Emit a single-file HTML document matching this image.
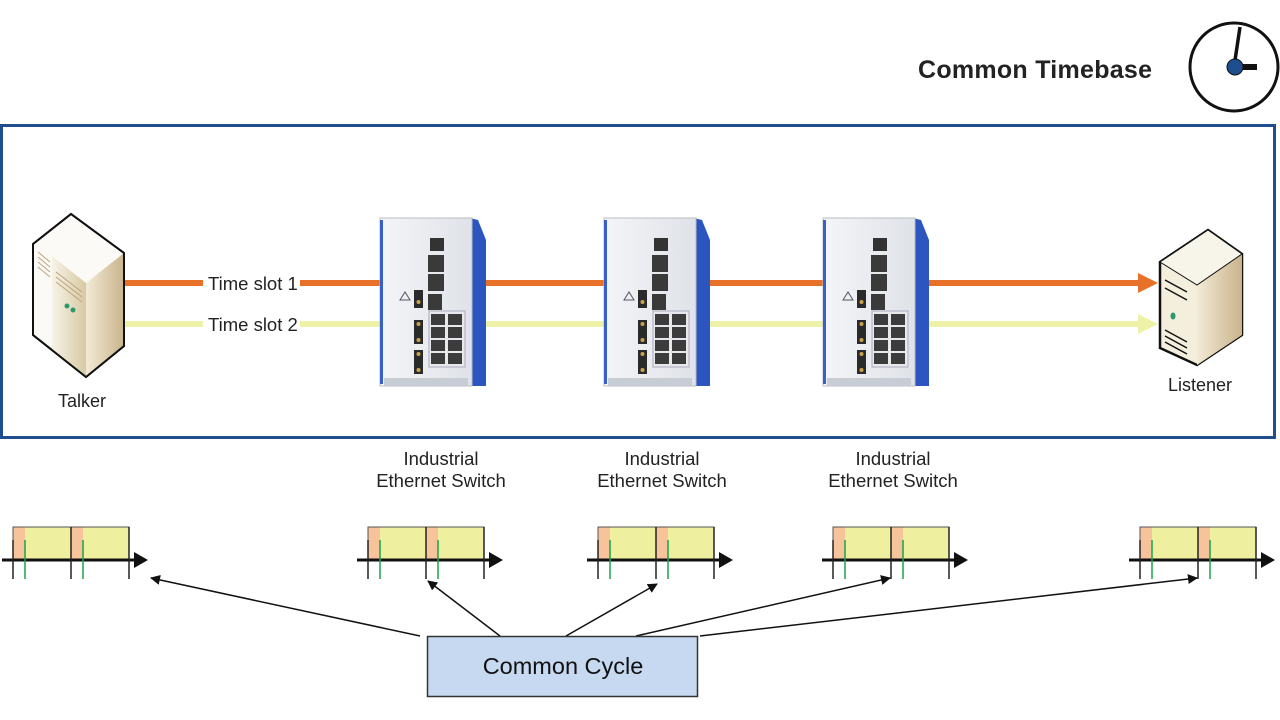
<!DOCTYPE html>
<html><head><meta charset="utf-8"><style>
html,body{margin:0;padding:0;background:#fff;}
svg{display:block;font-family:"Liberation Sans",Arial,sans-serif;}
</style></head><body>
<svg width="1280" height="720" viewBox="0 0 1280 720" xmlns="http://www.w3.org/2000/svg">
<defs>
<linearGradient id="sw" x1="0" x2="1" y1="0" y2="0"><stop offset="0" stop-color="#f4f5f8"/><stop offset="1" stop-color="#dfe2e8"/></linearGradient>
<linearGradient id="beige" x1="0" x2="1"><stop offset="0" stop-color="#f3ead6"/><stop offset="1" stop-color="#c9b48c"/></linearGradient>
<linearGradient id="beige2" x1="0" x2="1"><stop offset="0" stop-color="#f7f3e6"/><stop offset="1" stop-color="#d8c9a4"/></linearGradient>
<marker id="ah" markerWidth="10" markerHeight="10" refX="9" refY="5" orient="auto" markerUnits="userSpaceOnUse"><path d="M0,0 L10,5 L0,10 z" fill="#111"/></marker>
<g id="switch">
  <path d="M90,0 L98,2 L106,22 L106,168 L92,168 Z" fill="#2d55c0"/>
  <rect x="0" y="0" width="92" height="168" fill="url(#sw)" stroke="#b8bcc6"/>
  <rect x="0" y="2" width="3" height="164" fill="#3a5fc8"/>
  <rect x="4" y="160" width="84" height="8" fill="#c8ccd4"/>
  <rect x="50" y="20" width="14" height="13" fill="#333"/>
  <rect x="48" y="37" width="16" height="17" fill="#3a3a3a"/>
  <rect x="48" y="56" width="16" height="17" fill="#3a3a3a"/>
  <rect x="48" y="76" width="14" height="16" fill="#3a3a3a"/>
  <rect x="49" y="93" width="36" height="56" fill="#e6e8ec" stroke="#aab"/>
  <g fill="#3c3c3c">
    <rect x="51" y="96" width="14" height="11"/><rect x="68" y="96" width="14" height="11"/>
    <rect x="51" y="109" width="14" height="11"/><rect x="68" y="109" width="14" height="11"/>
    <rect x="51" y="122" width="14" height="11"/><rect x="68" y="122" width="14" height="11"/>
    <rect x="51" y="135" width="14" height="11"/><rect x="68" y="135" width="14" height="11"/>
  </g>
  <rect x="34" y="72" width="9" height="18" fill="#2a2a2a"/>
  <rect x="34" y="102" width="9" height="24" fill="#2a2a2a"/>
  <rect x="34" y="132" width="9" height="24" fill="#2a2a2a"/>
  <g fill="#c9a24a"><circle cx="38.5" cy="106" r="2"/><circle cx="38.5" cy="122" r="2"/><circle cx="38.5" cy="136" r="2"/><circle cx="38.5" cy="152" r="2"/><circle cx="38.5" cy="84" r="2"/></g>
  <path d="M20,82 l5,-8 l5,8 z" fill="none" stroke="#556" stroke-width="1"/>
</g>
<g id="tl">
  <rect x="11" y="527" width="12" height="33" fill="#f7c39a"/>
  <rect x="23" y="527" width="46" height="33" fill="#eef0a0"/>
  <rect x="69" y="527" width="12" height="33" fill="#f7c39a"/>
  <rect x="81" y="527" width="46" height="33" fill="#eef0a0"/>
  <rect x="11" y="527" width="116" height="33" fill="none" stroke="#555" stroke-width="1"/>
  <line x1="0" y1="560" x2="134" y2="560" stroke="#111" stroke-width="3"/>
  <path d="M132,552 L146,560 L132,568 z" fill="#111"/>
  <g stroke="#222" stroke-width="1.5"><line x1="11" y1="540" x2="11" y2="579"/><line x1="69" y1="527" x2="69" y2="579"/><line x1="127" y1="527" x2="127" y2="579"/></g>
  <g stroke="#1aa34a" stroke-width="1.5"><line x1="23" y1="540" x2="23" y2="579"/><line x1="81" y1="540" x2="81" y2="579"/></g>
</g>
</defs>

<text x="918" y="78" font-size="25" font-weight="bold" fill="#222" textLength="234">Common Timebase</text>
<circle cx="1234" cy="67" r="44" fill="none" stroke="#111" stroke-width="3"/>
<line x1="1234" y1="67" x2="1240" y2="27" stroke="#111" stroke-width="3.5"/>
<line x1="1234" y1="67" x2="1257" y2="67" stroke="#111" stroke-width="6"/>
<circle cx="1235" cy="67" r="8" fill="#1d4f8f" stroke="#111" stroke-width="1"/>

<rect x="1.5" y="125.5" width="1273" height="312" fill="none" stroke="#1f4e8c" stroke-width="3"/>

<line x1="125" y1="283" x2="1140" y2="283" stroke="#e8712a" stroke-width="6"/>
<path d="M1138,273 L1158,283 L1138,293 z" fill="#e8712a"/>
<line x1="125" y1="324" x2="1140" y2="324" stroke="#eef2a8" stroke-width="6"/>
<path d="M1138,314 L1158,324 L1138,334 z" fill="#eef2a8"/>
<rect x="203" y="272" width="97" height="22" fill="#fff"/>
<rect x="203" y="313" width="97" height="22" fill="#fff"/>
<text x="208" y="290" font-size="18.5" fill="#222">Time slot 1</text>
<text x="208" y="331" font-size="18.5" fill="#222">Time slot 2</text>

<!-- talker -->
<path d="M33,244 L71,214 L124,253 L124,346 L86,377 L33,335 Z" fill="#fbfaf6" stroke="#111" stroke-width="2"/>
<path d="M86,283 L124,253 L124,346 L86,377 Z" fill="url(#beige)"/>
<path d="M52,256 L86,283 L86,377 L52,350 Z" fill="url(#beige2)"/>
<g stroke="#bba47a" stroke-width="1"><line x1="38" y1="252" x2="50" y2="262"/><line x1="38" y1="257" x2="50" y2="267"/><line x1="38" y1="262" x2="50" y2="272"/><line x1="38" y1="267" x2="50" y2="277"/><line x1="56" y1="272" x2="82" y2="292"/><line x1="56" y1="277" x2="82" y2="297"/><line x1="56" y1="282" x2="82" y2="302"/></g>
<circle cx="67" cy="306" r="2.5" fill="#2a9a6a"/><circle cx="73" cy="310" r="2.5" fill="#2a9a6a"/>
<path d="M33,244 L71,214 L124,253 L124,346 L86,377 L33,335 Z" fill="none" stroke="#111" stroke-width="2"/>
<text x="82" y="407" font-size="18" fill="#222" text-anchor="middle">Talker</text>

<!-- listener -->
<path d="M1160,262 L1208,230 L1242,254 L1242,335 L1197,365 L1160,348 Z" fill="#f4eedd" stroke="#111" stroke-width="2.5"/>
<path d="M1197,285 L1242,254 L1242,335 L1197,365 Z" fill="url(#beige)"/>
<path d="M1160,262 L1208,230 L1242,254 L1197,285 Z" fill="#f7f4ea" stroke="#111" stroke-width="1"/>
<g stroke="#111" stroke-width="1.5"><line x1="1165" y1="280" x2="1187" y2="292"/><line x1="1165" y1="288" x2="1187" y2="300"/><line x1="1165" y1="330" x2="1187" y2="342"/><line x1="1165" y1="336" x2="1187" y2="348"/><line x1="1165" y1="342" x2="1187" y2="354"/></g>
<ellipse cx="1173" cy="316" rx="2.5" ry="3.5" fill="#2a9a6a"/>
<text x="1200" y="391" font-size="18" fill="#222" text-anchor="middle">Listener</text>

<use href="#switch" x="380" y="218"/>
<use href="#switch" x="604" y="218"/>
<use href="#switch" x="823" y="218"/>

<g font-size="18.5" fill="#222" text-anchor="middle">
<text x="441" y="465">Industrial</text><text x="441" y="487">Ethernet Switch</text>
<text x="662" y="465">Industrial</text><text x="662" y="487">Ethernet Switch</text>
<text x="893" y="465">Industrial</text><text x="893" y="487">Ethernet Switch</text>
</g>

<use href="#tl" x="2" y="0"/>
<use href="#tl" x="357" y="0"/>
<use href="#tl" x="587" y="0"/>
<use href="#tl" x="822" y="0"/>
<use href="#tl" x="1129" y="0"/>

<g stroke="#111" stroke-width="1.5" marker-end="url(#ah)">
<line x1="420" y1="636" x2="151" y2="578"/>
<line x1="500" y1="636" x2="428" y2="581"/>
<line x1="566" y1="636" x2="657" y2="584"/>
<line x1="636" y1="636" x2="890" y2="578"/>
<line x1="700" y1="636" x2="1197" y2="578"/>
</g>
<rect x="427.5" y="636.5" width="270" height="60" fill="#c6d9f0" stroke="#333" stroke-width="1.5"/>
<text x="563" y="674" font-size="23.5" fill="#111" text-anchor="middle">Common Cycle</text>
</svg>
</body></html>
